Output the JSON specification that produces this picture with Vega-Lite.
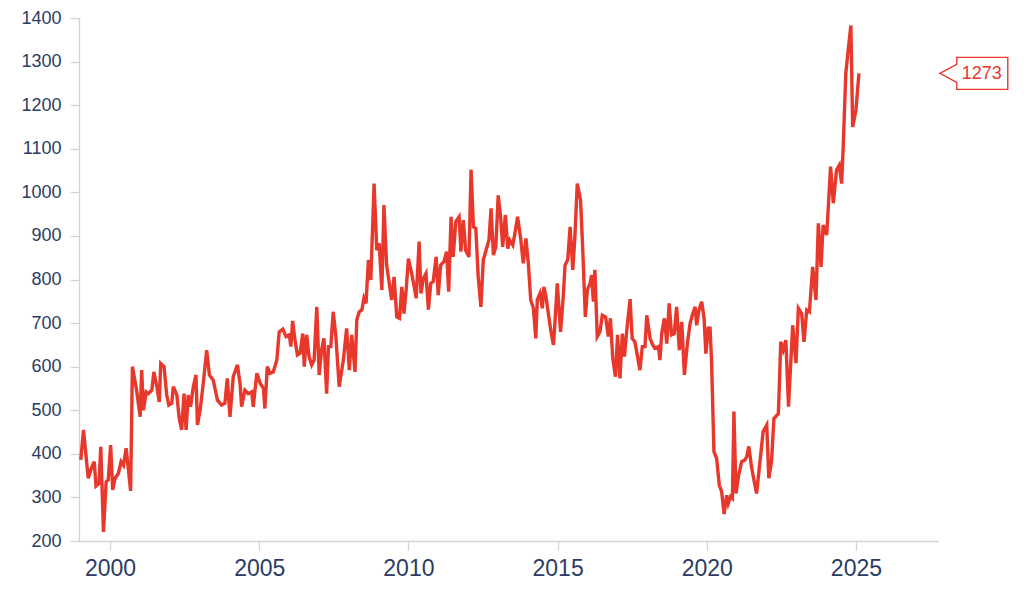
{
  "$schema": "https://vega.github.io/schema/vega-lite/v6.json",
  "autosize": {"type": "none"},
  "width": 859,
  "height": 523,
  "padding": {"left": 79, "top": 18, "right": 86, "bottom": 60},
  "background": "white",
  "config": {
    "view": {"stroke": null},
    "font": "Liberation Sans",
    "axis": {
      "grid": false,
      "ticks": true,
      "domainColor": "#d3d3d3",
      "domainWidth": 1.3,
      "tickColor": "#d3d3d3",
      "tickWidth": 1.3,
      "tickSize": 9,
      "labelColor": "#2b3c64",
      "labelFont": "Liberation Sans",
      "title": null
    }
  },
  "layer": [
    {
      "data": {
        "values": [
          {"t": 1999.02, "v": 386}, {"t": 1999.11, "v": 455}, {"t": 1999.27, "v": 344}, {"t": 1999.39, "v": 370},
          {"t": 1999.47, "v": 382}, {"t": 1999.53, "v": 326}, {"t": 1999.63, "v": 332}, {"t": 1999.69, "v": 416},
          {"t": 1999.78, "v": 221}, {"t": 1999.87, "v": 336}, {"t": 1999.94, "v": 340}, {"t": 2000.02, "v": 420},
          {"t": 2000.09, "v": 317}, {"t": 2000.17, "v": 344}, {"t": 2000.28, "v": 355}, {"t": 2000.37, "v": 382},
          {"t": 2000.45, "v": 374}, {"t": 2000.54, "v": 413}, {"t": 2000.69, "v": 315}, {"t": 2000.75, "v": 600},
          {"t": 2000.89, "v": 546}, {"t": 2001.01, "v": 485}, {"t": 2001.06, "v": 592}, {"t": 2001.12, "v": 500},
          {"t": 2001.21, "v": 542}, {"t": 2001.28, "v": 538}, {"t": 2001.40, "v": 546}, {"t": 2001.47, "v": 588},
          {"t": 2001.57, "v": 554}, {"t": 2001.65, "v": 519}, {"t": 2001.70, "v": 607}, {"t": 2001.81, "v": 600},
          {"t": 2001.90, "v": 535}, {"t": 2001.97, "v": 512}, {"t": 2002.07, "v": 516}, {"t": 2002.12, "v": 554},
          {"t": 2002.24, "v": 535}, {"t": 2002.32, "v": 481}, {"t": 2002.40, "v": 455}, {"t": 2002.48, "v": 538},
          {"t": 2002.55, "v": 455}, {"t": 2002.62, "v": 535}, {"t": 2002.70, "v": 508}, {"t": 2002.79, "v": 554},
          {"t": 2002.88, "v": 581}, {"t": 2002.93, "v": 466}, {"t": 2003.02, "v": 500}, {"t": 2003.13, "v": 565},
          {"t": 2003.24, "v": 638}, {"t": 2003.33, "v": 581}, {"t": 2003.46, "v": 569}, {"t": 2003.60, "v": 523},
          {"t": 2003.74, "v": 512}, {"t": 2003.85, "v": 516}, {"t": 2003.93, "v": 573}, {"t": 2004.02, "v": 485},
          {"t": 2004.13, "v": 577}, {"t": 2004.27, "v": 604}, {"t": 2004.36, "v": 560}, {"t": 2004.41, "v": 508},
          {"t": 2004.52, "v": 546}, {"t": 2004.63, "v": 538}, {"t": 2004.75, "v": 542}, {"t": 2004.80, "v": 508},
          {"t": 2004.92, "v": 585}, {"t": 2005.03, "v": 562}, {"t": 2005.14, "v": 550}, {"t": 2005.19, "v": 504},
          {"t": 2005.27, "v": 600}, {"t": 2005.36, "v": 585}, {"t": 2005.47, "v": 588}, {"t": 2005.59, "v": 615},
          {"t": 2005.67, "v": 680}, {"t": 2005.79, "v": 686}, {"t": 2005.90, "v": 669}, {"t": 2006.01, "v": 673},
          {"t": 2006.06, "v": 646}, {"t": 2006.12, "v": 705}, {"t": 2006.20, "v": 661}, {"t": 2006.28, "v": 627},
          {"t": 2006.37, "v": 631}, {"t": 2006.46, "v": 676}, {"t": 2006.51, "v": 600}, {"t": 2006.59, "v": 673},
          {"t": 2006.67, "v": 623}, {"t": 2006.76, "v": 604}, {"t": 2006.84, "v": 615}, {"t": 2006.93, "v": 737},
          {"t": 2007.01, "v": 581}, {"t": 2007.09, "v": 638}, {"t": 2007.17, "v": 665}, {"t": 2007.26, "v": 538},
          {"t": 2007.32, "v": 646}, {"t": 2007.40, "v": 646}, {"t": 2007.48, "v": 726}, {"t": 2007.57, "v": 669},
          {"t": 2007.68, "v": 554}, {"t": 2007.82, "v": 615}, {"t": 2007.93, "v": 688}, {"t": 2008.02, "v": 592},
          {"t": 2008.10, "v": 673}, {"t": 2008.21, "v": 588}, {"t": 2008.27, "v": 707}, {"t": 2008.35, "v": 726},
          {"t": 2008.44, "v": 730}, {"t": 2008.51, "v": 757}, {"t": 2008.58, "v": 745}, {"t": 2008.66, "v": 845},
          {"t": 2008.74, "v": 799}, {"t": 2008.85, "v": 1020}, {"t": 2008.94, "v": 867}, {"t": 2009.02, "v": 883},
          {"t": 2009.11, "v": 776}, {"t": 2009.18, "v": 971}, {"t": 2009.27, "v": 833}, {"t": 2009.36, "v": 791},
          {"t": 2009.44, "v": 753}, {"t": 2009.52, "v": 806}, {"t": 2009.61, "v": 714}, {"t": 2009.70, "v": 711},
          {"t": 2009.78, "v": 783}, {"t": 2009.85, "v": 722}, {"t": 2009.93, "v": 780}, {"t": 2010.00, "v": 848},
          {"t": 2010.11, "v": 814}, {"t": 2010.19, "v": 785}, {"t": 2010.26, "v": 757}, {"t": 2010.36, "v": 887},
          {"t": 2010.42, "v": 768}, {"t": 2010.50, "v": 802}, {"t": 2010.59, "v": 814}, {"t": 2010.67, "v": 731},
          {"t": 2010.75, "v": 791}, {"t": 2010.83, "v": 795}, {"t": 2010.93, "v": 852}, {"t": 2011.00, "v": 764},
          {"t": 2011.08, "v": 833}, {"t": 2011.19, "v": 841}, {"t": 2011.28, "v": 864}, {"t": 2011.35, "v": 772},
          {"t": 2011.43, "v": 944}, {"t": 2011.50, "v": 852}, {"t": 2011.59, "v": 933}, {"t": 2011.70, "v": 944},
          {"t": 2011.76, "v": 864}, {"t": 2011.84, "v": 936}, {"t": 2011.92, "v": 867}, {"t": 2012.03, "v": 852},
          {"t": 2012.10, "v": 1052}, {"t": 2012.18, "v": 921}, {"t": 2012.26, "v": 917}, {"t": 2012.34, "v": 806},
          {"t": 2012.43, "v": 737}, {"t": 2012.51, "v": 845}, {"t": 2012.62, "v": 871}, {"t": 2012.70, "v": 890},
          {"t": 2012.77, "v": 963}, {"t": 2012.85, "v": 856}, {"t": 2012.93, "v": 875}, {"t": 2013.01, "v": 993},
          {"t": 2013.09, "v": 944}, {"t": 2013.16, "v": 875}, {"t": 2013.25, "v": 948}, {"t": 2013.33, "v": 871},
          {"t": 2013.40, "v": 890}, {"t": 2013.50, "v": 879}, {"t": 2013.57, "v": 906}, {"t": 2013.66, "v": 944},
          {"t": 2013.77, "v": 890}, {"t": 2013.85, "v": 837}, {"t": 2013.94, "v": 894}, {"t": 2014.02, "v": 837},
          {"t": 2014.10, "v": 753}, {"t": 2014.19, "v": 734}, {"t": 2014.27, "v": 665}, {"t": 2014.32, "v": 753},
          {"t": 2014.41, "v": 768}, {"t": 2014.49, "v": 734}, {"t": 2014.54, "v": 783}, {"t": 2014.61, "v": 761},
          {"t": 2014.69, "v": 722}, {"t": 2014.77, "v": 684}, {"t": 2014.86, "v": 650}, {"t": 2014.91, "v": 699},
          {"t": 2014.99, "v": 791}, {"t": 2015.10, "v": 680}, {"t": 2015.19, "v": 761}, {"t": 2015.25, "v": 833},
          {"t": 2015.34, "v": 845}, {"t": 2015.42, "v": 921}, {"t": 2015.51, "v": 822}, {"t": 2015.58, "v": 898},
          {"t": 2015.66, "v": 1020}, {"t": 2015.77, "v": 982}, {"t": 2015.84, "v": 875}, {"t": 2015.93, "v": 714},
          {"t": 2016.00, "v": 776}, {"t": 2016.09, "v": 791}, {"t": 2016.14, "v": 810}, {"t": 2016.20, "v": 749},
          {"t": 2016.25, "v": 822}, {"t": 2016.33, "v": 669}, {"t": 2016.42, "v": 680}, {"t": 2016.50, "v": 718},
          {"t": 2016.61, "v": 714}, {"t": 2016.70, "v": 669}, {"t": 2016.77, "v": 711}, {"t": 2016.85, "v": 619},
          {"t": 2016.94, "v": 577}, {"t": 2017.01, "v": 673}, {"t": 2017.09, "v": 573}, {"t": 2017.17, "v": 676},
          {"t": 2017.24, "v": 623}, {"t": 2017.32, "v": 684}, {"t": 2017.43, "v": 755}, {"t": 2017.50, "v": 665},
          {"t": 2017.59, "v": 657}, {"t": 2017.67, "v": 627}, {"t": 2017.76, "v": 592}, {"t": 2017.84, "v": 646},
          {"t": 2017.93, "v": 646}, {"t": 2017.99, "v": 718}, {"t": 2018.10, "v": 665}, {"t": 2018.19, "v": 650},
          {"t": 2018.26, "v": 642}, {"t": 2018.38, "v": 646}, {"t": 2018.43, "v": 615}, {"t": 2018.49, "v": 676},
          {"t": 2018.58, "v": 711}, {"t": 2018.66, "v": 653}, {"t": 2018.74, "v": 745}, {"t": 2018.82, "v": 673},
          {"t": 2018.91, "v": 676}, {"t": 2018.99, "v": 737}, {"t": 2019.08, "v": 638}, {"t": 2019.16, "v": 703},
          {"t": 2019.25, "v": 581}, {"t": 2019.35, "v": 653}, {"t": 2019.44, "v": 699}, {"t": 2019.53, "v": 722},
          {"t": 2019.61, "v": 737}, {"t": 2019.66, "v": 695}, {"t": 2019.74, "v": 730}, {"t": 2019.83, "v": 749},
          {"t": 2019.91, "v": 711}, {"t": 2019.97, "v": 630}, {"t": 2020.05, "v": 688}, {"t": 2020.11, "v": 688},
          {"t": 2020.16, "v": 615}, {"t": 2020.24, "v": 405}, {"t": 2020.33, "v": 390}, {"t": 2020.42, "v": 328},
          {"t": 2020.50, "v": 313}, {"t": 2020.58, "v": 262}, {"t": 2020.67, "v": 305}, {"t": 2020.72, "v": 286},
          {"t": 2020.80, "v": 302}, {"t": 2020.86, "v": 298}, {"t": 2020.91, "v": 497}, {"t": 2020.98, "v": 309},
          {"t": 2021.06, "v": 348}, {"t": 2021.17, "v": 382}, {"t": 2021.28, "v": 386}, {"t": 2021.34, "v": 394},
          {"t": 2021.41, "v": 417}, {"t": 2021.50, "v": 370}, {"t": 2021.58, "v": 340}, {"t": 2021.67, "v": 309},
          {"t": 2021.89, "v": 451}, {"t": 2022.01, "v": 466}, {"t": 2022.08, "v": 344}, {"t": 2022.17, "v": 382},
          {"t": 2022.25, "v": 481}, {"t": 2022.40, "v": 492}, {"t": 2022.48, "v": 657}, {"t": 2022.56, "v": 638},
          {"t": 2022.65, "v": 661}, {"t": 2022.74, "v": 508}, {"t": 2022.88, "v": 695}, {"t": 2022.99, "v": 608},
          {"t": 2023.07, "v": 734}, {"t": 2023.18, "v": 722}, {"t": 2023.26, "v": 657}, {"t": 2023.35, "v": 730},
          {"t": 2023.44, "v": 726}, {"t": 2023.55, "v": 829}, {"t": 2023.66, "v": 753}, {"t": 2023.74, "v": 929},
          {"t": 2023.83, "v": 829}, {"t": 2023.90, "v": 925}, {"t": 2024.02, "v": 902}, {"t": 2024.15, "v": 1059},
          {"t": 2024.24, "v": 975}, {"t": 2024.35, "v": 1051}, {"t": 2024.44, "v": 1062}, {"t": 2024.52, "v": 1020},
          {"t": 2024.57, "v": 1100}, {"t": 2024.66, "v": 1273}, {"t": 2024.74, "v": 1326}, {"t": 2024.83, "v": 1383},
          {"t": 2024.89, "v": 1150}, {"t": 2025.00, "v": 1189}, {"t": 2025.10, "v": 1273}
        ]
      },
      "mark": {"type": "line", "color": "#e8372b", "strokeWidth": 3.4},
      "encoding": {
        "x": {
          "field": "t",
          "type": "quantitative",
          "scale": {"domain": [1998.96, 2027.75], "nice": false, "zero": false},
          "axis": {
            "values": [2000, 2005, 2010, 2015, 2020, 2025],
            "format": "d",
            "labelFontSize": 23,
            "labelPadding": 7
          }
        },
        "y": {
          "field": "v",
          "type": "quantitative",
          "scale": {"domain": [200, 1400], "nice": false, "zero": false},
          "axis": {
            "values": [200, 300, 400, 500, 600, 700, 800, 900, 1000, 1100, 1200, 1300, 1400],
            "format": "d",
            "labelFontSize": 18,
            "labelPadding": 9
          }
        }
      }
    },
    {
      "data": {"values": [{"t": 2027.81, "v": 1273, "label": "1273"}]},
      "layer": [
        {
          "mark": {
            "type": "point",
            "shape": "M0,0L17,-9L17,-16L68,-16L68,16L17,16L17,9Z",
            "size": 4,
            "filled": true,
            "fill": "white",
            "fillOpacity": 1,
            "stroke": "#e8372b",
            "strokeWidth": 1.4,
            "opacity": 1,
            "clip": false
          },
          "encoding": {
            "x": {"field": "t", "type": "quantitative"},
            "y": {"field": "v", "type": "quantitative"}
          }
        },
        {
          "mark": {
            "type": "text",
            "align": "center",
            "baseline": "middle",
            "dx": 42,
            "dy": 1,
            "fontSize": 18,
            "font": "Liberation Sans",
            "color": "#e8372b",
            "clip": false
          },
          "encoding": {
            "x": {"field": "t", "type": "quantitative"},
            "y": {"field": "v", "type": "quantitative"},
            "text": {"field": "label"}
          }
        }
      ]
    }
  ]
}
